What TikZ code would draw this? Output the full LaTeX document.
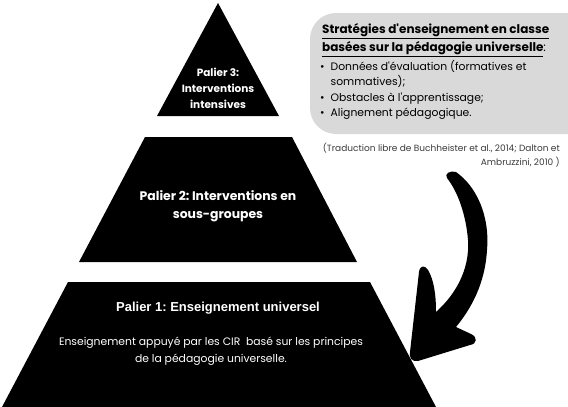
\documentclass[tikz,border=0pt]{standalone}
\usepackage{fontspec}
\setmainfont{Poppins}
\newfontfamily\arialfont{Liberation Sans}
\definecolor{boxgray}{HTML}{D9D9D9}
\definecolor{citegray}{HTML}{3A3A3A}
\newcommand{\apos}{\textquotesingle}
\frenchspacing

\begin{document}
\begin{tikzpicture}[x=1pt, y=-1pt,
    tierlabel/.style={text=white, font=\bfseries\fontsize{10.5}{16}\selectfont, align=center, inner sep=0pt},
    boxtext/.style={anchor=north west, align=left, inner sep=0pt}]
    \useasboundingbox (0,0) rectangle (568,407);

    % Pyramid tiers
    \fill (218,3) -- (279,116) -- (157,116) -- cycle;
    \fill (145,137) -- (292,137) -- (357,262) -- (79,262) -- cycle;
    \fill (68,282) -- (370,282) -- (436,407) -- (2,407) -- cycle;

    % Tier labels
    \node[tierlabel] (palier3) at (218,88) {Palier 3:\\Interventions\\intensives};
    \node[tierlabel, font=\bfseries\fontsize{12.4}{18}\selectfont] (palier2) at (218,206) {Palier 2: Interventions en\\sous-groupes};
    \node[tierlabel, font=\arialfont\bfseries\fontsize{13}{15}\selectfont] (palier1) at (218,308) {Palier 1: Enseignement universel};
    \node[tierlabel, font=\fontsize{10.8}{17}\selectfont] (palier1text) at (211,351.5) {Enseignement appuyé par les CIR\ \ basé sur les principes\\de la pédagogie universelle.};

    % Strategy box
    \begin{scope}
        \clip (0,0) rectangle (568,407);
        \fill[boxgray, rounded corners=26pt] (310,13) rectangle (600,134);
    \end{scope}
    \node[boxtext, font=\bfseries\fontsize{12}{18}\selectfont] (boxtitle) at (322,23)
        {\underline{Stratégies d\apos enseignement en classe}\\\underline{basées sur la pédagogie universelle}\mdseries:};
    \node[boxtext, font=\fontsize{10.8}{15.5}\selectfont] (boxlist) at (320,59)
        {\begin{tabular}{@{}l@{\hspace{6pt}}l@{}}
            • & Données d\apos évaluation (formatives et\\
              & sommatives);\\
            • & Obstacles à l\apos apprentissage;\\
            • & Alignement pédagogique.
        \end{tabular}};

    % Source
    \node[anchor=north east, align=right, inner sep=0pt, text=citegray,
        font=\fontsize{9}{13.5}\selectfont] (source) at (560,143)
        {(Traduction libre de Buchheister et al., 2014; Dalton et\\Ambruzzini, 2010 )};

    % Curved arrow
    \fill (456,172) .. controls (476,186) and (490,215) .. (487,250)
        .. controls (485,285) and (470,310) .. (456,327)
        -- (471,334) .. controls (478,337) and (477,344) .. (470,345)
        -- (418,361) .. controls (412,362) and (409,358) .. (410,352)
        -- (419,272) .. controls (420,265) and (425,265) .. (428,270)
        .. controls (434,280) and (436,295) .. (436,312)
        .. controls (455,295) and (470,270) .. (468,240)
        .. controls (466,215) and (458,192) .. (447,178)
        .. controls (444,174) and (450,170) .. (456,172) -- cycle;
\end{tikzpicture}
\end{document}
